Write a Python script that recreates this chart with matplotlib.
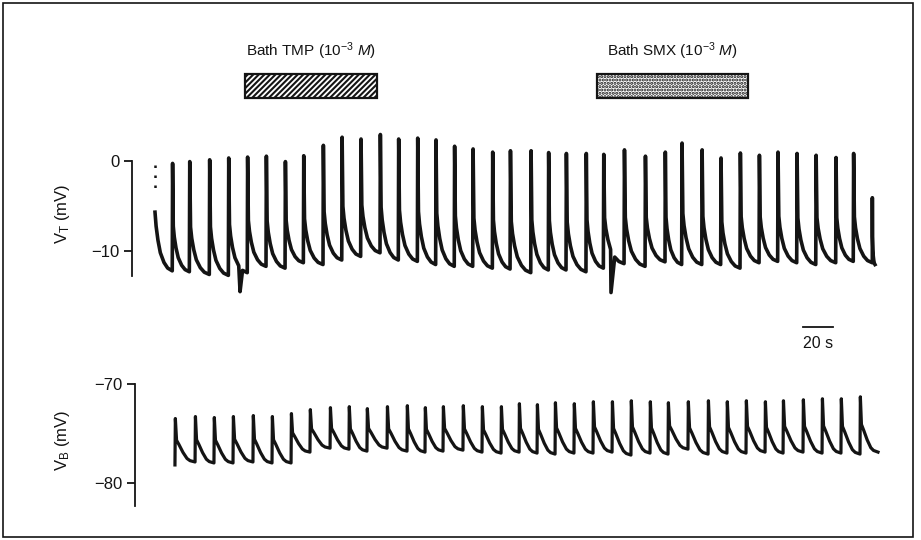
import numpy as np
import matplotlib
matplotlib.use('Agg')
import matplotlib.pyplot as plt
import matplotlib.transforms as mtransforms
from matplotlib.patches import Rectangle

plt.rcParams['font.family'] = ['Liberation Sans', 'DejaVu Sans']
plt.rcParams['mathtext.fontset'] = 'custom'
plt.rcParams['mathtext.rm'] = 'Liberation Sans'
plt.rcParams['mathtext.it'] = 'Liberation Sans:italic'
plt.rcParams['hatch.linewidth'] = 1.5

INK = '#141414'

# transepithelial potential V_T: spike onsets (s), peak (mV)
vt_times = [11.5, 22.9, 36.2, 48.9, 61.5, 74.0, 86.7, 98.9, 112.0, 124.5,
            137.1, 150.0, 162.2, 174.9, 187.1, 199.5, 211.8, 224.9, 236.7, 250.5,
            262.2, 274.0, 287.3, 298.9, 312.7, 326.7, 340.0, 351.1, 364.5, 377.1,
            390.0, 402.7, 415.1, 427.8, 440.5, 453.8, 465.5, 478.2]
vt_peaks = [-0.3, -0.1, 0.1, 0.3, 0.4, 0.5, -0.1, 0.55, 1.7, 2.6,
            2.4, 2.9, 2.4, 2.5, 2.3, 1.6, 1.3, 0.95, 1.1, 1.1,
            0.9, 0.8, 0.8, 0.7, 1.2, 0.5, 0.95, 1.95, 1.2, 0.3,
            0.85, 0.6, 0.95, 0.8, 0.6, 0.35, 0.8, -4.1]
# resting level before each spike, last entry is where the record stops
vt_base = [-12.2, -12.3, -12.6, -12.7, -12.4, -11.7, -11.9, -11.3, -11.5, -11.0,
           -10.6, -10.2, -11.0, -11.15, -11.5, -11.7, -11.7, -11.9, -12.0, -12.4,
           -12.1, -12.1, -12.3, -11.9, -11.4, -11.7, -11.2, -11.5, -11.5, -11.5,
           -11.9, -11.3, -11.15, -11.3, -11.5, -11.3, -11.15, -11.3, -11.5]
vt_start = (0.0, -5.7)
vt_end = 480.0
vt_glitches = [(56.7, -14.5), (304.0, -14.6)]

# basolateral potential V_B
vb_times = [13.3, 26.7, 39.3, 52.0, 65.3, 78.0, 90.7, 103.3, 116.7, 129.3,
            141.3, 154.7, 168.0, 180.0, 192.0, 205.3, 218.0, 230.7, 242.7, 254.7,
            266.7, 279.3, 292.0, 304.7, 317.3, 330.0, 342.0, 355.3, 368.7, 381.3,
            394.0, 406.7, 418.7, 432.0, 444.7, 457.3, 470.0]
vb_peaks = [-73.5, -73.3, -73.4, -73.3, -73.2, -73.3, -73.0, -72.6, -72.4, -72.3,
            -72.5, -72.3, -72.2, -72.4, -72.3, -72.2, -72.3, -72.3, -72.0, -72.1,
            -71.9, -72.0, -71.8, -71.8, -71.7, -71.8, -71.9, -71.8, -71.7, -71.8,
            -71.7, -71.8, -71.7, -71.6, -71.5, -71.5, -71.3]
vb_base = [-78.2, -77.9, -78.0, -78.0, -77.9, -78.0, -78.0, -76.9, -76.5, -76.6,
           -76.8, -76.5, -76.8, -76.9, -76.8, -76.7, -76.9, -77.0, -76.9, -77.0,
           -77.1, -77.0, -77.0, -76.9, -77.2, -77.0, -77.1, -76.6, -77.1, -77.0,
           -77.0, -76.9, -77.0, -76.9, -77.0, -77.0, -77.1, -76.9]
vb_end = 482.0

# normalised spike waveform: fraction of the interval vs. fraction of amplitude
vt_phase = [0.0, 0.02, 0.06, 0.12, 0.22, 0.35, 0.55, 0.75, 1.0]
vt_shape = [0.0, 1.0, 0.42, 0.32, 0.22, 0.13, 0.06, 0.02, 0.0]
vb_phase = [0.0, 0.02, 0.08, 0.2, 0.4, 0.6, 0.75, 1.0]
vb_shape = [0.0, 1.0, 0.5, 0.4, 0.22, 0.08, 0.03, 0.0]

# drug applications (s)
drugs = ['Bath TMP (10$^{-3}$ $M$)', 'Bath SMX (10$^{-3}$ $M$)']
drug_on = [60.0, 294.5]
drug_off = [148.0, 395.5]
drug_hatch = ['//////', '.....']


def spike_train(times, peaks, base, phase, shape, end, start=None, glitches=()):
    ts, vs = [], []
    if start is not None:
        t0, v0 = start
        p0, s0 = phase[2], shape[2]
        span = times[0] - t0
        for p, s in zip(phase[2:], shape[2:]):
            ts.append(t0 + (p - p0) / (1 - p0) * span)
            vs.append(base[0] + s / s0 * (v0 - base[0]))
    for i, (t, pk) in enumerate(zip(times, peaks)):
        dt = (times[i + 1] if i + 1 < len(times) else end) - t
        ts.append(t)
        vs.append(base[i])
        for p, s in zip(phase[1:], shape[1:]):
            ts.append(t + p * dt)
            vs.append(base[i + 1] + s * (pk - base[i + 1]))
    for t, v in glitches:
        ts.append(t)
        vs.append(v)
    order = np.argsort(ts, kind='stable')
    return np.asarray(ts)[order], np.asarray(vs)[order]


W, H = 921, 540
fig = plt.figure(figsize=(W / 100, H / 100), dpi=100)


def px_axes(left, top, right, bottom):
    return fig.add_axes([left / W, 1 - bottom / H, (right - left) / W, (bottom - top) / H])


def px_to_t(x):
    return (x - 155) / 1.5


# top panel: V_T
ax1 = px_axes(132, 120, 890, 300)
ax1.set_xlim(px_to_t(132), px_to_t(890))
ax1.set_ylim((160.7 - 300) / 9.03, (160.7 - 120) / 9.03)
t, v = spike_train(vt_times, vt_peaks, vt_base, vt_phase, vt_shape, vt_end,
                   start=vt_start, glitches=vt_glitches)
ax1.plot(t, v, color=INK, lw=2.6, solid_joinstyle='round')
ax1.plot([vt_start[0], vt_start[0]], [-0.5, -3.6], color=INK, lw=1.8, ls=(0, (1, 3)))
ax1.spines['left'].set_bounds(-12.8, 0)
ax1.set_yticks([0, -10])
ax1.set_yticklabels(['0', '\u221210'])

# bottom panel: V_B
ax2 = px_axes(135, 370, 890, 520)
ax2.set_xlim(px_to_t(135), px_to_t(890))
ax2.set_ylim(-70 - (520 - 384) / 9.87, -70 + (384 - 370) / 9.87)
t, v = spike_train(vb_times, vb_peaks, vb_base, vb_phase, vb_shape, vb_end)
ax2.plot(t, v, color=INK, lw=2.3, solid_joinstyle='round')
ax2.spines['left'].set_bounds(-82.4, -70)
ax2.set_yticks([-70, -80])
ax2.set_yticklabels(['\u221270', '\u221280'])

for ax in (ax1, ax2):
    for side in ('top', 'right', 'bottom'):
        ax.spines[side].set_visible(False)
    ax.spines['left'].set_linewidth(1.3)
    ax.spines['left'].set_color(INK)
    ax.patch.set_visible(False)
    ax.xaxis.set_visible(False)
    ax.tick_params(axis='y', direction='out', length=6, width=1.3, color=INK,
                   labelsize=12, labelcolor=INK, pad=3)

fig.text(62 / W, 1 - 214 / H, 'V$_\\mathregular{T}$ (mV)', rotation=90,
         ha='center', va='center', fontsize=12, color=INK)
fig.text(62 / W, 1 - 440 / H, 'V$_\\mathregular{B}$ (mV)', rotation=90,
         ha='center', va='center', fontsize=12, color=INK)

# drug bars above the V_T trace
bar_tr = mtransforms.blended_transform_factory(ax1.transData, fig.transFigure)
for name, on, off, hatch in zip(drugs, drug_on, drug_off, drug_hatch):
    ax1.add_patch(Rectangle((on, 1 - 98 / H), off - on, 24 / H, transform=bar_tr,
                            facecolor='white', edgecolor=INK, lw=1.6, hatch=hatch,
                            clip_on=False))
    ax1.text((on + off) / 2, 1 - 51 / H, name, transform=bar_tr, ha='center',
             va='center', fontsize=11, color=INK)

# 20 s scale bar
ax1.plot([431.8, 451.8], [1 - 326.7 / H] * 2, transform=bar_tr, color=INK,
         lw=1.3, clip_on=False)
ax1.text(441.8, 1 - 343 / H, '20 s', transform=bar_tr, ha='center', va='center',
         fontsize=11.5, color=INK)

# frame round the figure
fig.patches.append(Rectangle((3 / W, 3 / H), 910 / W, 534 / H, transform=fig.transFigure,
                             fill=False, edgecolor=INK, lw=1.2))

fig.savefig('out.png', dpi=100)
